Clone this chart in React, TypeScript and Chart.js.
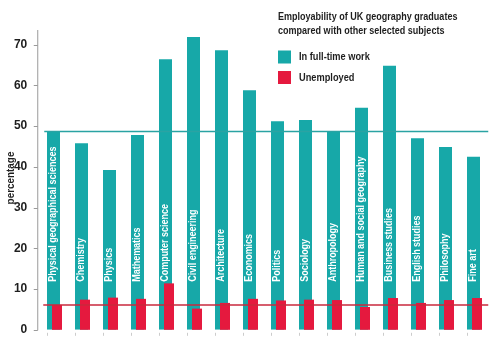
import React, { useEffect, useRef } from 'react';
import { Chart, registerables } from 'chart.js';

Chart.register(...registerables);

const subjects = [
  'Physical geographical sciences', 'Chemistry', 'Physics', 'Mathematics',
  'Computer science', 'Civil engineering', 'Architecture', 'Economics',
  'Politics', 'Sociology', 'Anthropology', 'Human and social geography',
  'Business studies', 'English studies', 'Philosophy', 'Fine art',
];
const fullTimeWork = [48.7, 45.8, 39.2, 47.8, 66.4, 71.9, 68.6, 58.8, 51.2, 51.5, 48.8, 54.5, 64.8, 47.0, 44.9, 42.5];
const unemployed = [6.1, 7.4, 7.9, 7.6, 11.4, 5.2, 6.6, 7.6, 7.2, 7.4, 7.3, 5.6, 7.8, 6.6, 7.3, 7.8];
const referenceFullTime = 48.7;
const referenceUnemployed = 6.1;
const seriesLabels = ['In full-time work', 'Unemployed'];
const titleLines = ['Employability of UK geography graduates', 'compared with other selected subjects'];
const yAxisTitle = 'percentage';
const yMax = 73.6;

const TEAL = '#17a8a8';
const RED = '#e5193e';
const SANS = "'Liberation Sans', Arial, sans-serif";
const INK = '#1e1e1e';

function narrowText(
  ctx: CanvasRenderingContext2D, text: string, x: number, y: number,
  size: number, sx: number, rotate = 0, align: CanvasTextAlign = 'left',
) {
  ctx.save();
  ctx.translate(x, y);
  if (rotate) ctx.rotate(rotate);
  ctx.scale(sx, 1);
  ctx.font = `bold ${size}px ${SANS}`;
  ctx.textAlign = align;
  ctx.textBaseline = 'middle';
  ctx.fillText(text, 0, 0);
  ctx.restore();
}

export default function App() {
  const ref = useRef<HTMLCanvasElement | null>(null);
  useEffect(() => {
    const canvas = ref.current!;
    const overlay = {
      id: 'overlay',
      beforeDatasetDraw(chart: any, args: any) {
        if (args.index === 1 && !chart.__drawRed) return false;
      },
      afterDatasetDraw(chart: any, args: any) {
        if (args.index === 0) {
          chart.__drawRed = true;
          chart.getDatasetMeta(1).controller.draw();
          chart.__drawRed = false;
        }
      },
      afterDatasetsDraw(chart: any) {
        const ctx = chart.ctx as CanvasRenderingContext2D;
        const ya = chart.scales.y;
        const area = chart.chartArea;
        const base = ya.getPixelForValue(0);
        // reference lines
        ctx.save();
        ctx.lineWidth = 1.5;
        ctx.strokeStyle = '#2aa3a3';
        let yy = ya.getPixelForValue(referenceFullTime);
        ctx.beginPath(); ctx.moveTo(area.left + 3, yy); ctx.lineTo(area.right - 1, yy); ctx.stroke();
        ctx.strokeStyle = '#c9283c';
        yy = ya.getPixelForValue(referenceUnemployed);
        ctx.beginPath(); ctx.moveTo(area.left + 2, yy); ctx.lineTo(area.right - 1, yy); ctx.stroke();
        ctx.restore();
        // in-bar labels
        const meta = chart.getDatasetMeta(0);
        ctx.save();
        ctx.fillStyle = '#ffffff';
        meta.data.forEach((bar: any, i: number) => {
          narrowText(ctx, subjects[i], bar.x, base - 48, 10.5, 0.855, -Math.PI / 2);
        });
        ctx.restore();
        // y axis line + ticks
        ctx.save();
        ctx.strokeStyle = '#9a9a9a';
        ctx.lineWidth = 1;
        const ax = area.left - 3.5;
        ctx.beginPath(); ctx.moveTo(ax, area.top); ctx.lineTo(ax, base + 0.5); ctx.stroke();
        ya.ticks.forEach((t: any) => {
          const p = Math.round(ya.getPixelForValue(t.value)) + 0.5;
          ctx.beginPath(); ctx.moveTo(ax - 4, p); ctx.lineTo(ax, p); ctx.stroke();
        });
        // x tick marks
        ctx.strokeStyle = '#cccccc';
        meta.data.forEach((bar: any) => {
          const x = Math.round(bar.x - 7) + 0.5;
          ctx.beginPath(); ctx.moveTo(x, base + 3); ctx.lineTo(x, base + 6); ctx.stroke();
        });
        ctx.restore();
        // y title, chart title, legend
        ctx.save();
        ctx.fillStyle = INK;
        narrowText(ctx, yAxisTitle, 11, 178, 11, 0.9, -Math.PI / 2, 'center');
        titleLines.forEach((l, i) => narrowText(ctx, l, 278, 17 + i * 14, 11, 0.82));
        const colors = [TEAL, RED];
        seriesLabels.forEach((l, i) => {
          const cy = 57 + i * 20.5;
          ctx.fillStyle = colors[i];
          ctx.fillRect(278, cy - 6.5, 13, 13);
          ctx.fillStyle = INK;
          narrowText(ctx, l, 299, cy, 11, 0.84);
        });
        ctx.restore();
      },
    };
    const chart = new Chart(canvas, {
      type: 'bar',
      data: {
        labels: subjects,
        datasets: [
          {
            label: seriesLabels[0], data: fullTimeWork, backgroundColor: TEAL, borderWidth: 0,
            categoryPercentage: 0.25, barPercentage: 13 / 3.5,
          },
          {
            label: seriesLabels[1], data: unemployed, backgroundColor: RED, borderWidth: 0,
            categoryPercentage: 0.25, barPercentage: 10 / 3.5,
          },
        ],
      },
      options: {
        animation: false,
        responsive: true,
        maintainAspectRatio: false,
        layout: { padding: { top: 30, right: 10.75, bottom: 15, left: 0 } },
        plugins: { legend: { display: false }, title: { display: false }, tooltip: { enabled: false } },
        scales: {
          x: { display: false, offset: true },
          y: {
            min: 0, max: yMax,
            border: { display: false },
            grid: { display: false, drawTicks: false },
            ticks: {
              stepSize: 10, padding: 14,
              color: INK,
              font: { family: SANS, weight: 'bold', size: 12 },
            },
            afterBuildTicks: (s: any) => { s.ticks = s.ticks.filter((t: any) => t.value % 10 === 0); },
            afterFit: (s: any) => { s.width = 41.25; },
          },
        },
      },
      plugins: [overlay],
    });
    return () => chart.destroy();
  }, []);
  return (
    <div style={{ position: 'fixed', left: 0, top: 0, width: 500, height: 351, background: '#fff' }}>
      <canvas ref={ref} />
    </div>
  );
}
